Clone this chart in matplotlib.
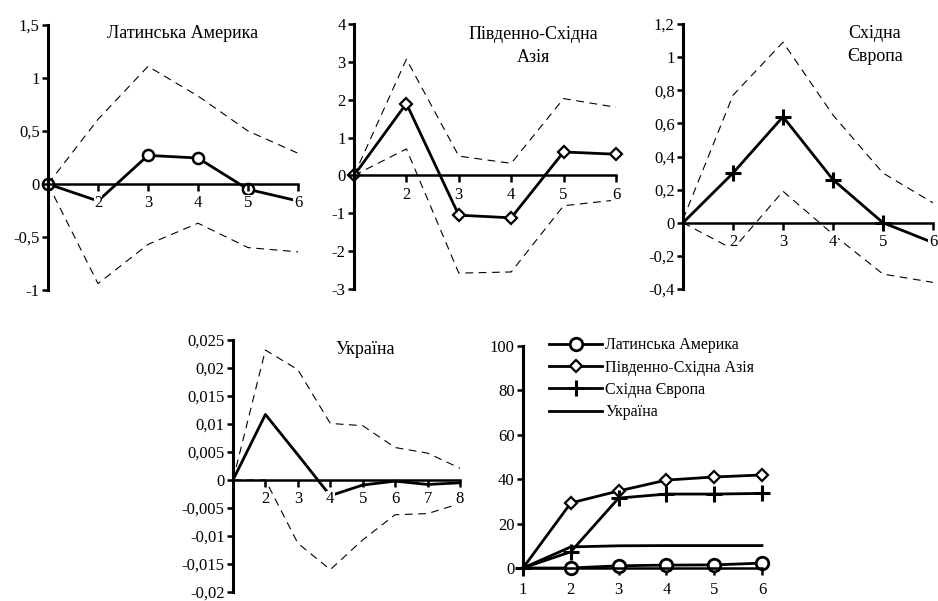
import matplotlib
matplotlib.use("Agg")
import matplotlib.pyplot as plt

plt.rcParams['font.family'] = ['Liberation Serif', 'DejaVu Serif']

# ---------------- data ----------------
lags6 = [1, 2, 3, 4, 5, 6]
lags8 = [1, 2, 3, 4, 5, 6, 7, 8]

la_irf = [0, -0.16, 0.27, 0.245, -0.05, -0.16]
la_up = [0, 0.61, 1.11, 0.83, 0.5, 0.29]
la_lo = [0, -0.94, -0.57, -0.37, -0.6, -0.64]

sea_irf = [0, 1.9, -1.05, -1.12, 0.62, 0.56]
sea_up = [0, 3.07, 0.51, 0.32, 2.03, 1.8]
sea_lo = [0, 0.7, -2.58, -2.55, -0.8, -0.65]

ee_irf = [0, 0.30, 0.64, 0.26, 0.0, -0.12]
ee_up = [0.02, 0.77, 1.09, 0.65, 0.30, 0.12]
ee_lo = [0, -0.16, 0.19, -0.07, -0.31, -0.36]

ua_irf = [0, 0.0117, 0.0045, -0.0028, -0.0009, -0.0002, -0.0008, -0.0005]
ua_up = [0, 0.0232, 0.0197, 0.0101, 0.0097, 0.0058, 0.0048, 0.0021]
ua_lo = [0, 0, -0.0113, -0.016, -0.0107, -0.0062, -0.006, -0.0042]

vd_la = [0, 0, 1.0, 1.3, 1.4, 2.2]
vd_sea = [0, 29.3, 34.7, 39.6, 41.0, 41.9]
vd_ee = [0, 7.3, 31.5, 33.3, 33.3, 33.6]
vd_ua = [0, 9.5, 10.0, 10.1, 10.1, 10.1]

titles = ["Латинська Америка", "Південно-Східна\nАзія", "Східна\nЄвропа", "Україна"]
legend_labels = ["Латинська Америка", "Південно-Східна Азія", "Східна Європа", "Україна"]

la_yticks = [-1, -0.5, 0, 0.5, 1, 1.5]
la_ylabels = ['-1', '-0,5', '0', '0,5', '1', '1,5']
sea_yticks = [-3, -2, -1, 0, 1, 2, 3, 4]
sea_ylabels = ['-3', '-2', '-1', '0', '1', '2', '3', '4']
ee_yticks = [-0.4, -0.2, 0, 0.2, 0.4, 0.6, 0.8, 1.0, 1.2]
ee_ylabels = ['-0,4', '-0,2', '0', '0,2', '0,4', '0,6', '0,8', '1', '1,2']
ua_yticks = [-0.02, -0.015, -0.01, -0.005, 0, 0.005, 0.01, 0.015, 0.02, 0.025]
ua_ylabels = ['-0,02', '-0,015', '-0,01', '-0,005', '0', '0,005', '0,01', '0,015', '0,02', '0,025']
vd_yticks = [0, 20, 40, 60, 80, 100]
vd_ylabels = ['0', '20', '40', '60', '80', '100']

# ---------------- figure ----------------
W, H = 938, 601
fig = plt.figure(figsize=(W / 100, H / 100), dpi=100)

def px_axes(x0, x1, ytop, ybot):
    return fig.add_axes([x0 / W, 1 - ybot / H, (x1 - x0) / W, (ybot - ytop) / H])

TICK_FS = 12
TITLE_FS = 13
DASH = dict(color='black', lw=0.8, dashes=(7, 5))
MAIN = dict(color='black', lw=2.0)

def style_irf(ax, xticks, yticks, ylabels, ylim, xlim):
    ax.set_xlim(*xlim)
    ax.set_ylim(*ylim)
    for s in ['top', 'right']:
        ax.spines[s].set_visible(False)
    ax.spines['left'].set_linewidth(2.2)
    ax.spines['bottom'].set_position(('data', 0))
    ax.spines['bottom'].set_linewidth(1.8)
    ax.set_yticks(yticks)
    ax.set_yticklabels(ylabels)
    ax.set_xticks(xticks)
    ax.set_xticklabels([str(v) for v in xticks])
    ax.tick_params(axis='y', direction='out', length=4, width=1.8, labelsize=TICK_FS, pad=2)
    ax.tick_params(axis='x', direction='out', length=5, width=1.8, labelsize=TICK_FS, pad=3)
    ax.set_axisbelow(False)
    for lab in ax.get_xticklabels():
        lab.set_bbox(dict(facecolor='white', edgecolor='none', pad=0.3))
    ax.patch.set_visible(False)

# Panel 1: Latin America
ax1 = px_axes(48, 298, 25, 290)
ax1.plot(lags6, la_up, **DASH)
ax1.plot(lags6, la_lo, **DASH)
ax1.plot(lags6, la_irf, marker='o', ms=8, mfc='white', mec='black', mew=1.8,
         markevery=[0, 2, 3, 4], clip_on=False, **MAIN)
style_irf(ax1, [2, 3, 4, 5, 6], la_yticks, la_ylabels, (-1, 1.5), (1, 6))

# Panel 2: South-East Asia
ax2 = px_axes(354, 616, 24, 289)
ax2.plot(lags6, sea_up, **DASH)
ax2.plot(lags6, sea_lo, **DASH)
ax2.plot(lags6, sea_irf, marker='D', ms=6.5, mfc='white', mec='black', mew=1.6,
         clip_on=False, **MAIN)
style_irf(ax2, [2, 3, 4, 5, 6], sea_yticks, sea_ylabels, (-3, 4), (1, 6))

# Panel 3: Eastern Europe
ax3 = px_axes(683, 933, 24, 289)
ax3.plot(lags6, ee_up, **DASH)
ax3.plot(lags6, ee_lo, **DASH)
ax3.plot(lags6, ee_irf, marker='+', ms=11, mew=2.2, markevery=[1, 2, 3, 4],
         clip_on=False, **MAIN)
style_irf(ax3, [2, 3, 4, 5, 6], ee_yticks, ee_ylabels, (-0.4, 1.2), (1, 6))

# Panel 4: Ukraine
ax4 = px_axes(233, 460, 340, 592)
ax4.plot(lags8, ua_up, **DASH)
ax4.plot(lags8, ua_lo, **DASH)
ax4.plot(lags8, ua_irf, **MAIN)
style_irf(ax4, [2, 3, 4, 5, 6, 7, 8], ua_yticks, ua_ylabels, (-0.02, 0.025), (1, 8))

# Titles (figure pixel coordinates)
for txt, (x, y) in zip(titles, [(183, 33), (533, 46), (875, 45), (365, 349)]):
    fig.text(x / W, 1 - y / H, txt, fontsize=TITLE_FS, ha='center', va='center',
             linespacing=1.5)

# Panel 5: variance decomposition
ax5 = px_axes(523, 762, 346, 568)
ax5.plot(lags6, vd_la, marker='o', ms=9, mfc='white', mec='black', mew=2.0,
         markevery=[1, 2, 3, 4, 5], clip_on=False, label=legend_labels[0], **MAIN)
ax5.plot(lags6, vd_sea, marker='D', ms=6.5, mfc='white', mec='black', mew=1.6,
         markevery=[1, 2, 3, 4, 5], clip_on=False, label=legend_labels[1], **MAIN)
ax5.plot(lags6, vd_ee, marker='+', ms=11, mew=2.2, clip_on=False,
         label=legend_labels[2], **MAIN)
ax5.plot(lags6, vd_ua, clip_on=False, label=legend_labels[3], **MAIN)
ax5.set_xlim(1, 6)
ax5.set_ylim(0, 100)
for s in ['top', 'right']:
    ax5.spines[s].set_visible(False)
ax5.spines['left'].set_linewidth(2.2)
ax5.spines['bottom'].set_linewidth(1.8)
ax5.set_yticks(vd_yticks)
ax5.set_yticklabels(vd_ylabels)
ax5.set_xticks(lags6)
ax5.set_xticklabels([str(v) for v in lags6])
ax5.tick_params(axis='y', direction='out', length=4, width=1.8, labelsize=TICK_FS, pad=2)
ax5.tick_params(axis='x', direction='out', length=5, width=1.8, labelsize=TICK_FS, pad=5)
ax5.patch.set_visible(False)
ax5.legend(loc='upper left', bbox_to_anchor=(0.11, 1.04), frameon=False,
           fontsize=11.5, handlelength=3.3, handletextpad=0.2, labelspacing=0.4,
           borderaxespad=0, borderpad=0)

fig.savefig('out.png', dpi=100)
